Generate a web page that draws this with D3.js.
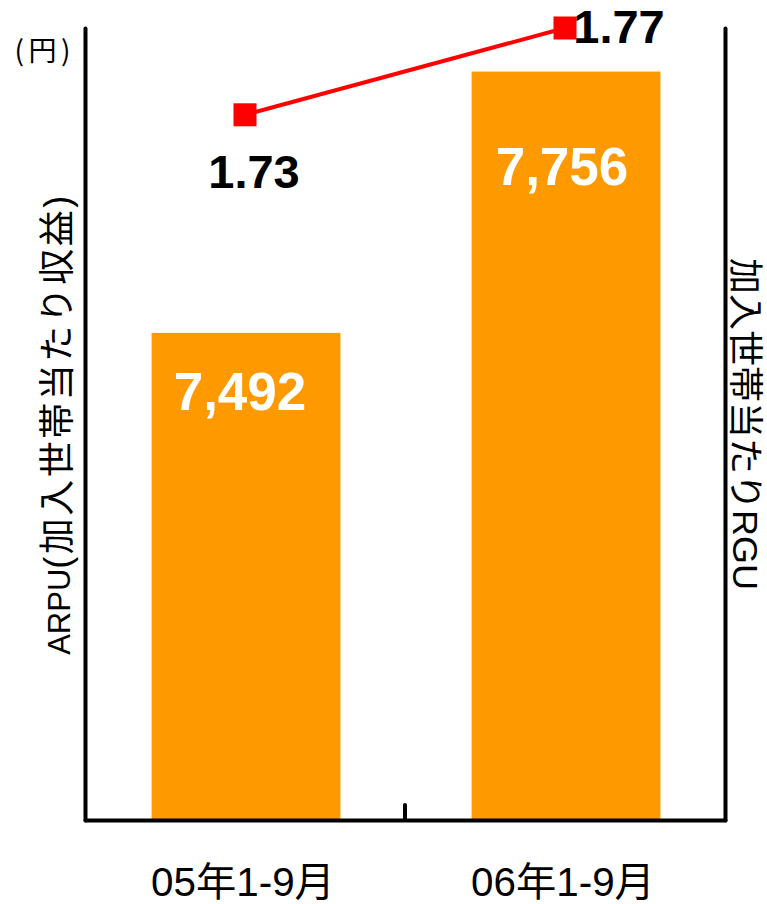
<!DOCTYPE html>
<html>
<head>
<meta charset="utf-8">
<script src="https://cdn.jsdelivr.net/npm/d3@7/dist/d3.min.js"></script>
<style>
  html, body { margin: 0; padding: 0; background: #fff; }
  svg { display: block; }
</style>
</head>
<body>
<svg id="chart" width="767" height="904"></svg>
<script>
// ---- data ----
const categories = ["05年1-9月", "06年1-9月"];
const arpuValues = [7492, 7756];
const rguValues = [1.73, 1.77];
const arpuLabels = ["7,492", "7,756"];
const rguLabels = ["1.73", "1.77"];
const leftAxisTitleParts = ["ARPU", "(加入世帯当たり収益)"];
const rightAxisTitle = "加入世帯当たりRGU";
const unitLabel = "(円)";

// ---- layout ----
const W = 767, H = 904;
const plot = { left: 85, right: 725, top: 28, bottom: 820 };
const svg = d3.select("#chart");
const mixedFont = "'Liberation Sans', 'Noto Sans CJK JP', sans-serif";

const x = d3.scaleBand().domain(categories).range([plot.left, plot.right]).padding(0);
const yL = d3.scaleLinear().domain([7000, 7800]).range([plot.bottom, plot.top]);
const yR = d3.scaleLinear().domain([1.405, 1.77]).range([plot.bottom, plot.top]);

const barW = x.bandwidth() * 0.59;
const cx = c => x(c) + x.bandwidth() / 2;

// bars
svg.append("g").selectAll("rect")
  .data(categories)
  .join("rect")
  .attr("x", (c) => cx(c) - barW / 2 + 1)
  .attr("width", barW)
  .attr("y", (c, i) => yL(arpuValues[i]))
  .attr("height", (c, i) => plot.bottom - yL(arpuValues[i]))
  .attr("fill", "#FF9900");

// axes
const axisStyle = g => {
  g.select(".domain").attr("stroke", "#000").attr("stroke-width", 4).attr("stroke-linecap", "round");
  g.selectAll(".tick").remove();
};
svg.append("g").attr("transform", `translate(${plot.left},0)`)
  .call(d3.axisLeft(yL).ticks(0).tickSizeOuter(0)).call(axisStyle);
svg.append("g").attr("transform", `translate(${plot.right},0)`)
  .call(d3.axisRight(yR).ticks(0).tickSizeOuter(0)).call(axisStyle);
svg.append("g").attr("transform", `translate(0,${plot.bottom})`)
  .call(d3.axisBottom(x).tickSizeOuter(0)).call(axisStyle);

// category boundary tick (between categories)
svg.append("line")
  .attr("x1", x(categories[1])).attr("x2", x(categories[1]))
  .attr("y1", plot.bottom).attr("y2", plot.bottom - 15)
  .attr("stroke", "#000").attr("stroke-width", 4).attr("stroke-linecap", "round");

// line series
const line = d3.line().x((d, i) => cx(categories[i])).y(d => yR(d));
svg.append("path")
  .datum(rguValues)
  .attr("d", line)
  .attr("fill", "none")
  .attr("stroke", "#FF0000")
  .attr("stroke-width", 4);

const ms = 23;
svg.append("g").selectAll("rect")
  .data(rguValues)
  .join("rect")
  .attr("x", (d, i) => cx(categories[i]) - ms / 2)
  .attr("y", d => yR(d) - ms / 2)
  .attr("width", ms).attr("height", ms)
  .attr("fill", "#FF0000");

// bar value labels
const barLabelDy = [77, 113];
const barLabelDx = [-5, -3];
svg.append("g").selectAll("text")
  .data(arpuLabels)
  .join("text")
  .attr("x", (d, i) => cx(categories[i]) + barLabelDx[i])
  .attr("y", (d, i) => yL(arpuValues[i]) + barLabelDy[i])
  .attr("text-anchor", "middle")
  .attr("font-family", "'Liberation Sans', Arial, sans-serif")
  .attr("font-weight", "bold")
  .attr("font-size", 53)
  .attr("fill", "#fff")
  .text(d => d);

// line value labels
const lineLabelDx = [9, 54];
const lineLabelDy = [73, 14.5];
svg.append("g").selectAll("text")
  .data(rguLabels)
  .join("text")
  .attr("x", (d, i) => cx(categories[i]) + lineLabelDx[i])
  .attr("y", (d, i) => yR(rguValues[i]) + lineLabelDy[i])
  .attr("text-anchor", "middle")
  .attr("font-family", "'Liberation Sans', Arial, sans-serif")
  .attr("font-weight", "bold")
  .attr("font-size", 47)
  .attr("fill", "#000")
  .text(d => d);

// category labels
svg.append("g").selectAll("text")
  .data(categories)
  .join("text")
  .attr("x", c => cx(c) - 2)
  .attr("y", 896)
  .attr("text-anchor", "middle")
  .attr("font-family", mixedFont)
  .attr("font-size", 40)
  .attr("textLength", 184)
  .attr("lengthAdjust", "spacingAndGlyphs")
  .attr("fill", "#000")
  .text(c => c);

// unit label
svg.append("text")
  .attr("x", 42.5).attr("y", 61)
  .attr("text-anchor", "middle")
  .attr("font-family", "'Noto Sans CJK JP', sans-serif")
  .attr("font-size", 28)
  .attr("textLength", 56)
  .attr("lengthAdjust", "spacing")
  .attr("fill", "#000")
  .text(unitLabel);

// left axis title (rotated)
const lt = svg.append("text")
  .attr("transform", `translate(70,424) rotate(-90)`)
  .attr("x", 0).attr("y", 0)
  .attr("text-anchor", "middle")
  .attr("font-family", mixedFont)
  .attr("fill", "#000");
lt.append("tspan").attr("font-size", 31).text(leftAxisTitleParts[0]);
lt.append("tspan").attr("font-size", 36).attr("letter-spacing", 2.5).text(leftAxisTitleParts[1]);

svg.append("text")
  .attr("transform", `translate(745,424) rotate(90)`)
  .attr("text-anchor", "middle")
  .attr("dominant-baseline", "central")
  .attr("font-family", mixedFont)
  .attr("font-size", 35)
  .attr("textLength", 332)
  .attr("lengthAdjust", "spacingAndGlyphs")
  .attr("fill", "#000")
  .text(rightAxisTitle);
</script>
</body>
</html>
